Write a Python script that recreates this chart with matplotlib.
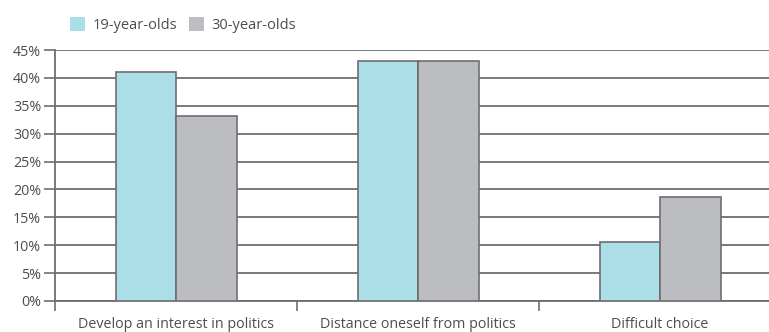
import numpy as np
import matplotlib.pyplot as plt
from matplotlib.patches import Patch

plt.rcParams['font.family'] = ['Open Sans', 'DejaVu Sans']

categories = ['Develop an interest in politics', 'Distance oneself from politics', 'Difficult choice']
series_names = ['19-year-olds', '30-year-olds']
age19 = [41.1, 43.0, 10.6]
age30 = [33.2, 43.0, 18.6]
yticks = [0, 5, 10, 15, 20, 25, 30, 35, 40, 45]

c19 = '#abdee7'
c30 = '#bcbdc1'
edge = '#6d6e71'
txt = '#4d4d4f'

fig = plt.figure(figsize=(7.69, 3.32), dpi=100)
ax = fig.add_axes([55 / 769, 1 - 301 / 332, 726 / 769, 251 / 332])

x = np.arange(len(categories))
w = 0.25
ax.bar(x - w / 2, age19, w, color=c19, edgecolor=edge, linewidth=1.2, zorder=3)
ax.bar(x + w / 2, age30, w, color=c30, edgecolor=edge, linewidth=1.2, zorder=3)

ax.set_xlim(-0.5, len(categories) - 0.5)
ax.set_ylim(0, 45)
ax.set_yticks(yticks)
ax.set_yticklabels([f'{v}%' for v in yticks])
ax.yaxis.grid(True, color=edge, linewidth=1.3, zorder=1)
ax.set_axisbelow(True)

# category labels centred, tick marks between groups
ax.set_xticks(x)
ax.set_xticklabels(categories)
ax.set_xticks(np.arange(-0.5, len(categories), 1.0), minor=True)
ax.tick_params(axis='x', which='major', length=0, pad=11.5, labelsize=10.3, labelcolor=txt)
ax.tick_params(axis='x', which='minor', length=7, width=1.2, color=edge, direction='out')
ax.tick_params(axis='y', length=8, width=1.2, color=edge, labelsize=10.3, labelcolor=txt, pad=2)

for s in ['top', 'right']:
    ax.spines[s].set_visible(False)
for s in ['left', 'bottom']:
    ax.spines[s].set_color(edge)
    ax.spines[s].set_linewidth(1.3)
ax.spines['left'].set_bounds(0, 45)

handles = [Patch(facecolor=c19, edgecolor='none'), Patch(facecolor=c30, edgecolor='none')]
fig.legend(handles, series_names, loc='center left', bbox_to_anchor=(57 / 769, 1 - 25 / 332),
           ncol=2, frameon=False, fontsize=10.5, labelcolor=txt, handlelength=1.05,
           handleheight=1.05, handletextpad=0.5, columnspacing=0.8)

fig.savefig('out.png', dpi=100)
